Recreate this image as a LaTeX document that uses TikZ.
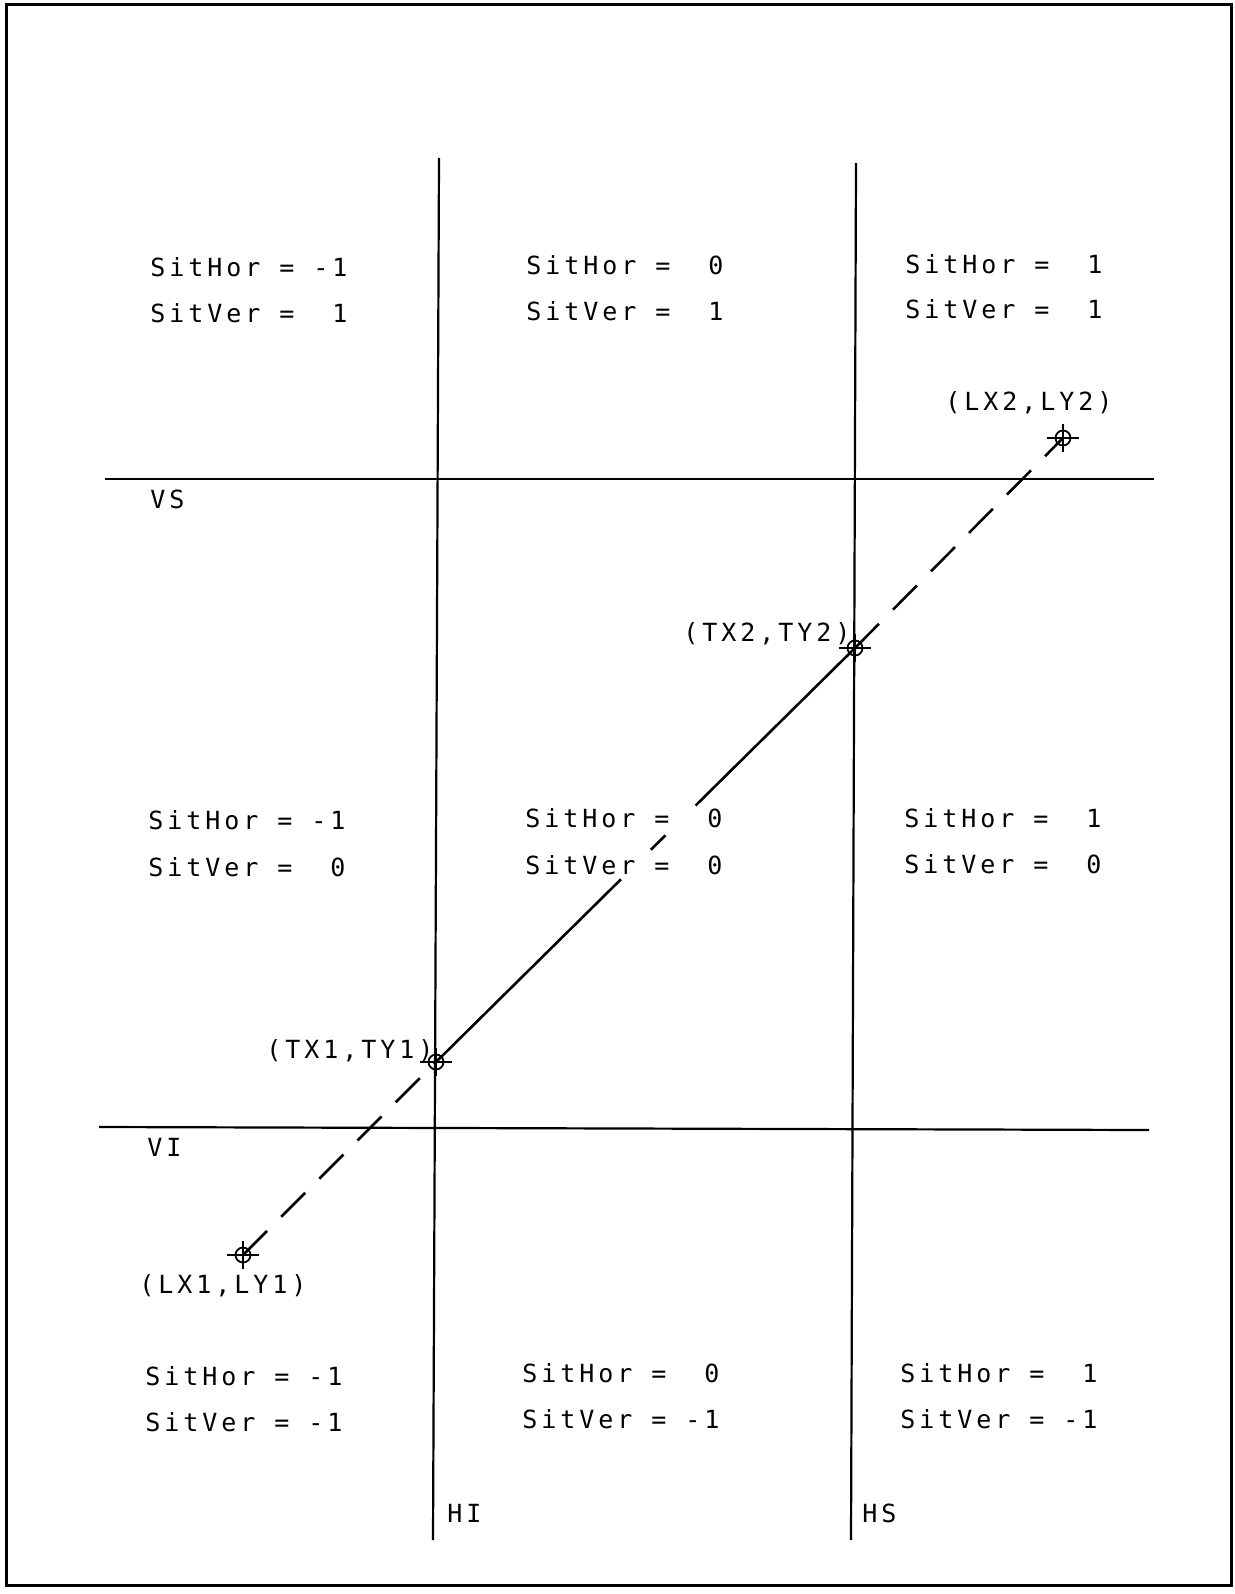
\documentclass[tikz,border=0pt]{standalone}
\usepackage{fontspec}
\newfontfamily\plotfont[LetterSpace=15.8]{DejaVu Sans Mono}
\newcommand\gp{\hspace*{9.5pt}}
\begin{document}
\begin{tikzpicture}[x=0.5pt,y=-0.5pt,
  lbl/.style={font=\plotfont\fontsize{12.5pt}{13pt}\selectfont, anchor=west, inner sep=0pt, text height=9.1pt, text depth=0pt},
  gridline/.style={line width=1.1pt},
  framebox/.style={line width=1.5pt},
  marker/.style={circle, draw, line width=0.9pt, minimum size=7.5pt, inner sep=0pt},
  dashedlink/.style={line width=1.3pt, dash pattern=on 17pt off 10pt},
  solidlink/.style={line width=1.3pt, dash pattern=on 130pt off 21pt on 10.25pt off 21.25pt on 250pt}]
\useasboundingbox (0,0) rectangle (1235,1594);
\draw[framebox] (6,5) rectangle (1231,1585);
% grid lines
\coordinate (hiTop) at (439,158);
\coordinate (hiBot) at (433,1540);
\coordinate (hsTop) at (856,163);
\coordinate (hsBot) at (851,1540);
\coordinate (vsL) at (105,479);
\coordinate (vsR) at (1154,479);
\coordinate (viL) at (99,1127);
\coordinate (viR) at (1149,1130);
\draw[gridline] (hiTop) -- (hiBot);
\draw[gridline] (hsTop) -- (hsBot);
\draw[gridline] (vsL) -- (vsR);
\draw[gridline] (viL) -- (viR);
% line labels
\node[lbl] (lvs) at (150,499) {VS};
\node[lbl] (lvi) at (147,1147) {VI};
\node[lbl] (lhi) at (447,1513) {HI};
\node[lbl] (lhs) at (862,1513) {HS};
% markers
\node[marker] (L1) at (243,1255) {};
\node[marker] (T1) at (436,1062) {};
\node[marker] (T2) at (855,648) {};
\node[marker] (L2) at (1063,438) {};
\foreach \n in {L1,T1,T2,L2}
  \draw[line width=0.9pt] ([xshift=-8pt]\n.center) -- ([xshift=8pt]\n.center)
                          ([yshift=7pt]\n.center) -- ([yshift=-7pt]\n.center);
\draw[dashedlink] (L1.center) -- (T1.center);
\draw[solidlink] (T1.center) -- (T2.center);
\draw[dashedlink] (T2.center) -- (L2.center);
% point labels
\node[lbl] (pl2) at (945,401) {(LX2,LY2)};
\node[lbl] (pt2) at (683,632) {(TX2,TY2)};
\node[lbl] (pt1) at (266,1049) {(TX1,TY1)};
\node[lbl] (pl1) at (139,1284) {(LX1,LY1)};
% region labels
\node[lbl] (a1) at (150,267) {SitHor\gp=\gp-1};
\node[lbl] (a2) at (150,313) {SitVer\gp=\gp\gp1};
\node[lbl] (b1) at (526,265) {SitHor\gp=\gp\gp0};
\node[lbl] (b2) at (526,311) {SitVer\gp=\gp\gp1};
\node[lbl] (c1) at (905,264) {SitHor\gp=\gp\gp1};
\node[lbl] (c2) at (905,309) {SitVer\gp=\gp\gp1};
\node[lbl] (d1) at (148,820) {SitHor\gp=\gp-1};
\node[lbl] (d2) at (148,867) {SitVer\gp=\gp\gp0};
\node[lbl] (e1) at (525,818) {SitHor\gp=\gp\gp0};
\node[lbl] (e2) at (525,865) {SitVer\gp=\gp\gp0};
\node[lbl] (f1) at (904,818) {SitHor\gp=\gp\gp1};
\node[lbl] (f2) at (904,864) {SitVer\gp=\gp\gp0};
\node[lbl] (g1) at (145,1376) {SitHor\gp=\gp-1};
\node[lbl] (g2) at (145,1422) {SitVer\gp=\gp-1};
\node[lbl] (h1) at (522,1373) {SitHor\gp=\gp\gp0};
\node[lbl] (h2) at (522,1419) {SitVer\gp=\gp-1};
\node[lbl] (k1) at (900,1373) {SitHor\gp=\gp\gp1};
\node[lbl] (k2) at (900,1419) {SitVer\gp=\gp-1};
\end{tikzpicture}
\end{document}
